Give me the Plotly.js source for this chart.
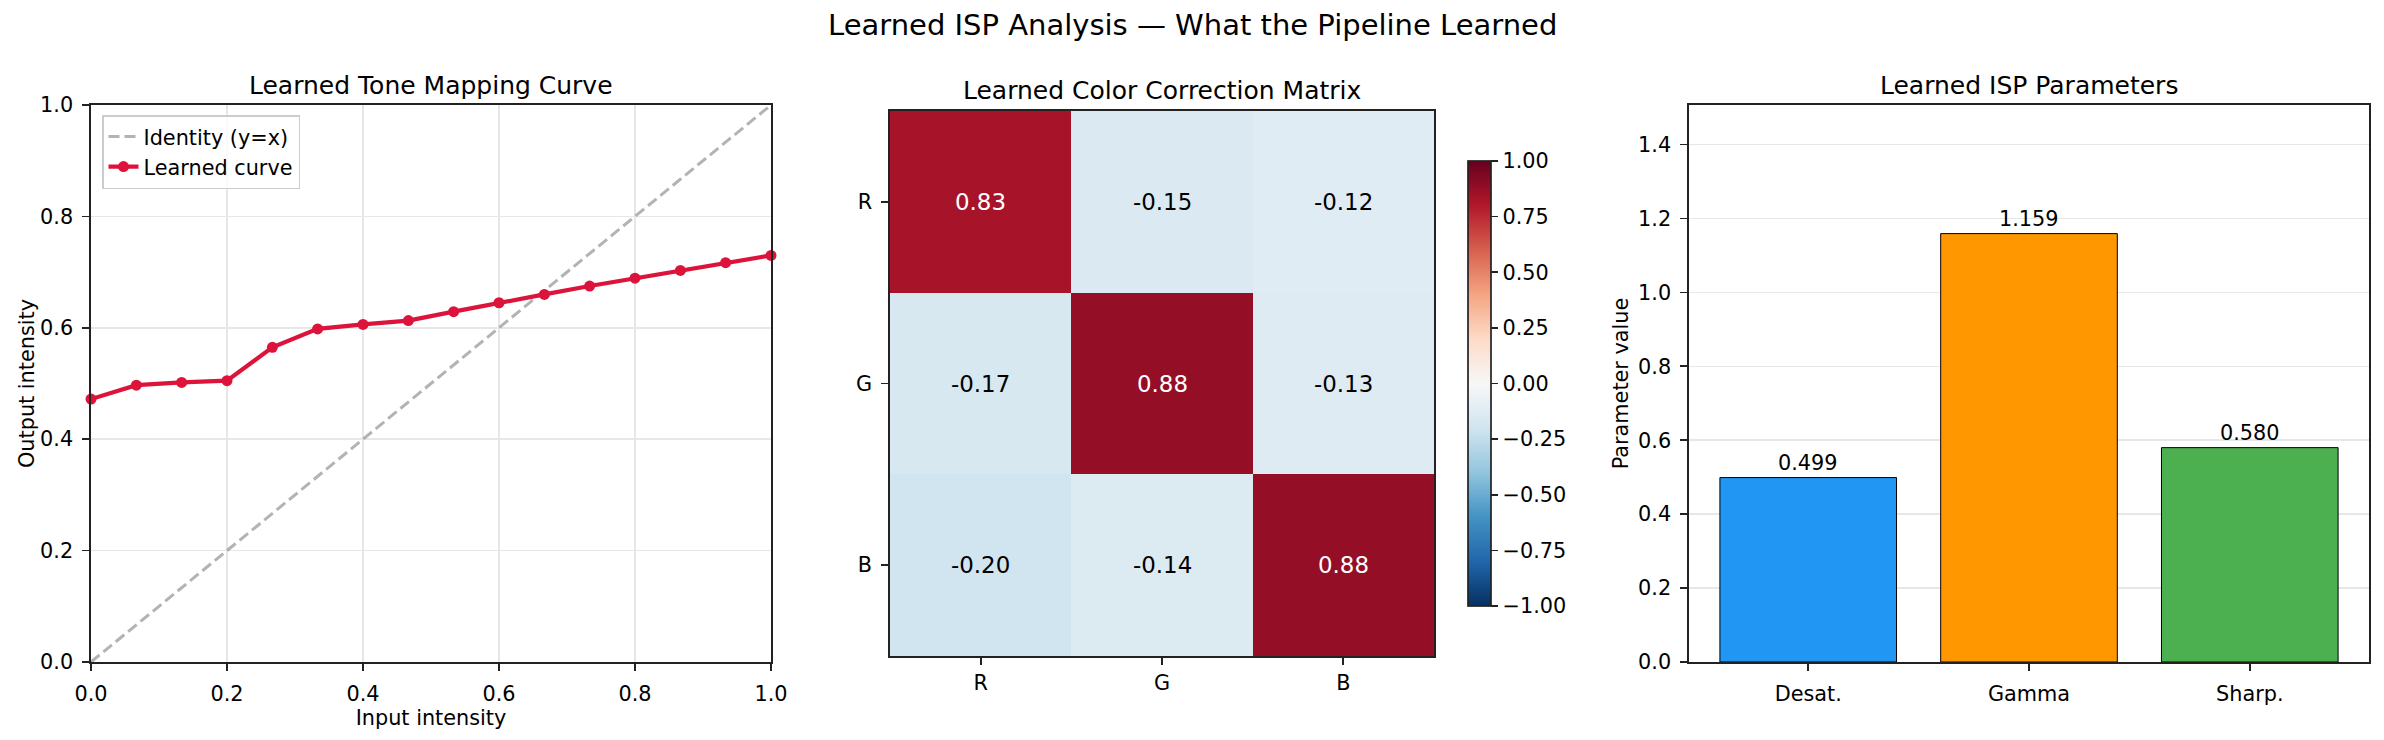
<!DOCTYPE html>
<html>
<head>
<meta charset="utf-8">
<script src="https://cdn.plot.ly/plotly-3.0.1.min.js"></script>
<style>
html, body { margin: 0; padding: 0; background: #ffffff; }
#chart { width: 2384px; height: 740px; }
</style>
</head>
<body>
<div id="chart"></div>
<script>
// ---- Data ----
const toneX = [0, 0.0667, 0.1333, 0.2, 0.2667, 0.3333, 0.4, 0.4667, 0.5333, 0.6, 0.6667, 0.7333, 0.8, 0.8667, 0.9333, 1.0];
const toneY = [0.472, 0.497, 0.502, 0.505, 0.565, 0.598, 0.606, 0.613, 0.629, 0.645, 0.660, 0.675, 0.689, 0.703, 0.717, 0.730];
const identityX = [0, 1];
const identityY = [0, 1];

const ccmLabels = ['R', 'G', 'B'];
const ccmRowR = [0.83, -0.15, -0.12];
const ccmRowG = [-0.17, 0.88, -0.13];
const ccmRowB = [-0.20, -0.14, 0.88];
const cbTicks = [-1, -0.75, -0.5, -0.25, 0, 0.25, 0.5, 0.75, 1];

const paramNames = ['Desat.', 'Gamma', 'Sharp.'];
const paramValues = [0.499, 1.159, 0.580];
const paramColors = ['#2196F3', '#FF9800', '#4CAF50'];

// ---- Layout helpers ----
const W = 2384, H = 740;
const px = v => v / W;
const py = v => 1 - v / H;
const FONT = 'DejaVu Sans, sans-serif';
const INK = '#222222';
const TICK = 20.8;

const rdbu_r = [
  [0.0, '#053061'], [0.1, '#2166ac'], [0.2, '#4393c3'], [0.3, '#92c5de'],
  [0.4, '#d1e5f0'], [0.5, '#f7f7f7'], [0.6, '#fddbc7'], [0.7, '#f4a582'],
  [0.8, '#d6604d'], [0.9, '#b2182b'], [1.0, '#67001f']
];

const ccm = [ccmRowR, ccmRowG, ccmRowB];

const baseAxis = {
  showline: true, mirror: true, linecolor: INK, linewidth: 1.7,
  ticks: 'outside', ticklen: 7, tickwidth: 1.7, tickcolor: INK,
  tickfont: {family: FONT, size: TICK, color: '#000'},
  zeroline: false, ticklabelstandoff: 5
};

const traces = [
  {
    x: identityX, y: identityY, type: 'scatter', mode: 'lines',
    name: 'Identity (y=x)',
    line: {color: 'rgba(128,128,128,0.6)', width: 3, dash: '11px,5px'},
    xaxis: 'x', yaxis: 'y', hoverinfo: 'skip'
  },
  {
    x: toneX, y: toneY, type: 'scatter', mode: 'lines+markers',
    name: 'Learned curve',
    line: {color: '#DC143C', width: 4.2},
    marker: {color: '#DC143C', size: 11},
    xaxis: 'x', yaxis: 'y', cliponaxis: false
  },
  {
    z: ccm, x: ccmLabels, y: ccmLabels, type: 'heatmap',
    colorscale: rdbu_r, zmin: -1, zmax: 1,
    xaxis: 'x2', yaxis: 'y2', showlegend: false,
    colorbar: {
      x: px(1468), xanchor: 'left', xref: 'paper',
      y: py(383.5), yanchor: 'middle',
      len: 445 / H, lenmode: 'fraction',
      thickness: 23, thicknessmode: 'pixels',
      xpad: 0, ypad: 0,
      outlinewidth: 1.7, outlinecolor: INK,
      ticks: 'outside', ticklen: 7, tickwidth: 1.7, tickcolor: INK,
      tickvals: cbTicks, tickformat: '.2f',
      tickfont: {family: FONT, size: TICK, color: '#000'}
    }
  },
  {
    x: paramNames, y: paramValues, type: 'bar', width: 0.8,
    marker: {color: paramColors, line: {color: '#000', width: 1}},
    xaxis: 'x3', yaxis: 'y3', showlegend: false
  }
];

const annotations = [];
// Cell annotations for the heatmap
for (let r = 0; r < ccm.length; r++) {
  for (let c = 0; c < ccm[r].length; c++) {
    const v = ccm[r][c];
    annotations.push({
      x: ccmLabels[c], y: ccmLabels[r], xref: 'x2', yref: 'y2',
      text: v.toFixed(2), showarrow: false,
      font: {family: FONT, size: 22.9, color: v > 0.5 ? '#ffffff' : '#000000'}
    });
  }
}
// Bar labels
for (let i = 0; i < paramValues.length; i++) {
  annotations.push({
    x: paramNames[i], y: paramValues[i] + 0.02, xref: 'x3', yref: 'y3',
    text: paramValues[i].toFixed(3), showarrow: false,
    yanchor: 'bottom', borderpad: 0, yshift: -6,
    font: {family: FONT, size: TICK, color: '#000'}
  });
}
// Titles
const titleFont = {family: FONT, size: 25, color: '#000'};
annotations.push(
  {text: 'Learned ISP Analysis — What the Pipeline Learned', x: px(1192), y: py(25),
   xref: 'paper', yref: 'paper', showarrow: false, xanchor: 'center', yanchor: 'middle',
   font: {family: FONT, size: 29, color: '#000'}},
  {text: 'Learned Tone Mapping Curve', x: px(431), y: py(85), xref: 'paper', yref: 'paper',
   showarrow: false, xanchor: 'center', yanchor: 'middle', font: titleFont},
  {text: 'Learned Color Correction Matrix', x: px(1162), y: py(91), xref: 'paper', yref: 'paper',
   showarrow: false, xanchor: 'center', yanchor: 'middle', font: titleFont},
  {text: 'Learned ISP Parameters', x: px(2029), y: py(85), xref: 'paper', yref: 'paper',
   showarrow: false, xanchor: 'center', yanchor: 'middle', font: titleFont}
);

const layout = {
  width: W, height: H,
  margin: {l: 0, r: 0, t: 0, b: 0},
  paper_bgcolor: '#ffffff', plot_bgcolor: '#ffffff',
  font: {family: FONT, color: '#000'},
  showlegend: true,
  legend: {
    x: px(102), y: py(115), xanchor: 'left', yanchor: 'top',
    bgcolor: 'rgba(255,255,255,0.8)', bordercolor: '#cccccc', borderwidth: 1.5,
    font: {family: FONT, size: TICK, color: '#000'}
  },
  xaxis: Object.assign({}, baseAxis, {
    domain: [px(91), px(771)], range: [0, 1], dtick: 0.2, tick0: 0, tickformat: '.1f',
    showgrid: true, gridcolor: '#e7e7e7', gridwidth: 1.5,
    title: {text: 'Input intensity', font: {family: FONT, size: TICK, color: '#000'}, standoff: 2},
    anchor: 'y'
  }),
  yaxis: Object.assign({}, baseAxis, {
    domain: [py(662), py(105)], range: [0, 1], dtick: 0.2, tick0: 0, tickformat: '.1f',
    showgrid: true, gridcolor: '#e7e7e7', gridwidth: 1.5,
    title: {text: 'Output intensity', font: {family: FONT, size: TICK, color: '#000'}, standoff: 0},
    anchor: 'x'
  }),
  xaxis2: Object.assign({}, baseAxis, {
    domain: [px(890), px(1434)], showgrid: false, anchor: 'y2', type: 'category',
    ticklabelstandoff: 0
  }),
  yaxis2: Object.assign({}, baseAxis, {
    domain: [py(656), py(111)], showgrid: false, anchor: 'x2', type: 'category',
    autorange: 'reversed'
  }),
  xaxis3: Object.assign({}, baseAxis, {
    domain: [px(1689), px(2369)], range: [-0.54, 2.54], showgrid: false,
    anchor: 'y3', type: 'category'
  }),
  yaxis3: Object.assign({}, baseAxis, {
    domain: [py(662), py(105)], range: [0, 1.507], dtick: 0.2, tick0: 0, tickformat: '.1f',
    showgrid: true, gridcolor: '#e7e7e7', gridwidth: 1.5,
    title: {text: 'Parameter value', font: {family: FONT, size: TICK, color: '#000'}, standoff: 4},
    anchor: 'x3'
  }),
  annotations: annotations
};

Plotly.newPlot('chart', traces, layout, {staticPlot: true, displayModeBar: false});
</script>
</body>
</html>
